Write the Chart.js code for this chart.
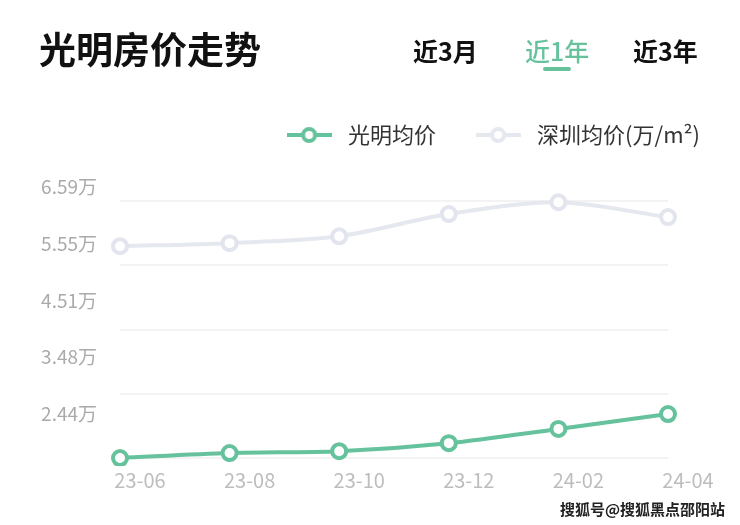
<!DOCTYPE html>
<html>
<head>
<meta charset="utf-8">
<script src="https://cdn.jsdelivr.net/npm/chart.js@4.4.1/dist/chart.umd.min.js"></script>
<style>
html, body { margin: 0; padding: 0; background: #fff; }
body { width: 740px; height: 525px; position: relative; overflow: hidden; font-family: "Noto Sans CJK SC", "Noto Sans", sans-serif; }
#chart { position: absolute; left: 0; top: 0; }
.title { position: absolute; left: 39px; top: 23px; font-size: 37px; font-weight: 700; color: #111; line-height: 50px; white-space: nowrap; }
.tab { position: absolute; top: 30px; font-size: 25px; font-weight: 700; color: #111; line-height: 40px; white-space: nowrap; }
.tab.on { color: #66c29c; font-weight: 500; }
.bar { position: absolute; left: 543px; top: 67px; width: 28px; height: 4px; border-radius: 2px; background: #66c29c; }
.mark { position: absolute; right: 15px; bottom: 6px; font-size: 15px; color: #222; font-weight: 700; }
</style>
</head>
<body>
<canvas id="chart" width="740" height="525"></canvas>
<div class="title">光明房价走势</div>
<div class="tab" style="left:413px">近3月</div>
<div class="tab on" style="left:525px">近1年</div>
<div class="tab" style="left:633px">近3年</div>
<div class="bar"></div>
<div class="mark">搜狐号@搜狐黑点邵阳站</div>
<script>
const months = ['23-06', '23-08', '23-10', '23-12', '24-02', '24-04'];
const guangming = [2.44, 2.52, 2.55, 2.68, 2.91, 3.15];
const shenzhen = [5.86, 5.91, 6.02, 6.38, 6.57, 6.33];
const yTicks = [2.44, 3.48, 4.51, 5.55, 6.59];

const green = '#66c29c';
const grey = '#e6e8f0';
const fam = '"Noto Sans CJK SC", "Noto Sans", sans-serif';

// little line + ring icon for the legend
function legendIcon(color) {
  const c = document.createElement('canvas');
  c.width = 45; c.height = 18;
  const g = c.getContext('2d');
  g.strokeStyle = color;
  g.lineWidth = 4;
  g.beginPath(); g.moveTo(0, 9); g.lineTo(45, 9); g.stroke();
  g.fillStyle = '#fff';
  g.beginPath(); g.arc(22.5, 9, 6, 0, Math.PI * 2); g.fill(); g.stroke();
  return c;
}
const icons = [legendIcon(green), legendIcon(grey)];

const setTicks = s => { s.ticks = yTicks.map(v => ({ value: v })); };

new Chart(document.getElementById('chart').getContext('2d'), {
  type: 'line',
  data: {
    labels: months,
    datasets: [{
      label: '光明均价',
      data: guangming,
      borderColor: green,
      borderWidth: 4,
      pointRadius: 7,
      pointBorderWidth: 4,
      pointBorderColor: green,
      pointBackgroundColor: '#fff',
      tension: 0.3,
      yAxisID: 'y'
    }, {
      label: '深圳均价(万/m²)',
      data: shenzhen,
      borderColor: grey,
      borderWidth: 4,
      pointRadius: 7,
      pointBorderWidth: 4,
      pointBorderColor: '#e2e4ee',
      pointBackgroundColor: '#fff',
      tension: 0.3,
      yAxisID: 'y'
    }]
  },
  options: {
    responsive: false,
    animation: false,
    layout: { padding: { top: 90, right: 6, bottom: 19, left: 0 } },
    plugins: {
      tooltip: { enabled: false },
      legend: {
        position: 'top',
        align: 'end',
        labels: {
          usePointStyle: true,
          pointStyleWidth: 56,
          color: '#333',
          font: { size: 22, family: fam },
          padding: 34,
          generateLabels: chart => Chart.defaults.plugins.legend.labels.generateLabels(chart)
            .map((l, i) => Object.assign(l, { pointStyle: icons[i] }))
        }
      }
    },
    scales: {
      x: {
        offset: false,
        grid: { display: false },
        border: { display: false },
        ticks: { color: '#bdbdbd', font: { size: 20, family: fam }, padding: -6, labelOffset: 20, maxRotation: 0, autoSkip: false },
        afterFit: s => { s.height = 40; }
      },
      y: {
        position: 'left',
        min: 2.311, max: 7.317,
        grid: { color: '#f3f3f3', lineWidth: 2, drawTicks: false },
        border: { display: false },
        ticks: { display: false },
        afterBuildTicks: setTicks,
        afterFit: s => { s.width = 0; }
      },
      y2: {
        position: 'left',
        min: 1.489, max: 7.157,
        grid: { display: false, drawTicks: false },
        border: { display: false },
        ticks: { color: '#aaaaaa', font: { size: 19, family: fam }, padding: 23, callback: v => v.toFixed(2) + '万' },
        afterBuildTicks: setTicks,
        afterFit: s => { s.width = 120; }
      },
      yr: {
        position: 'right',
        grid: { display: false, drawTicks: false },
        border: { display: false },
        ticks: { display: false },
        afterFit: s => { s.width = 66; }
      }
    }
  }
});
</script>
</body>
</html>
